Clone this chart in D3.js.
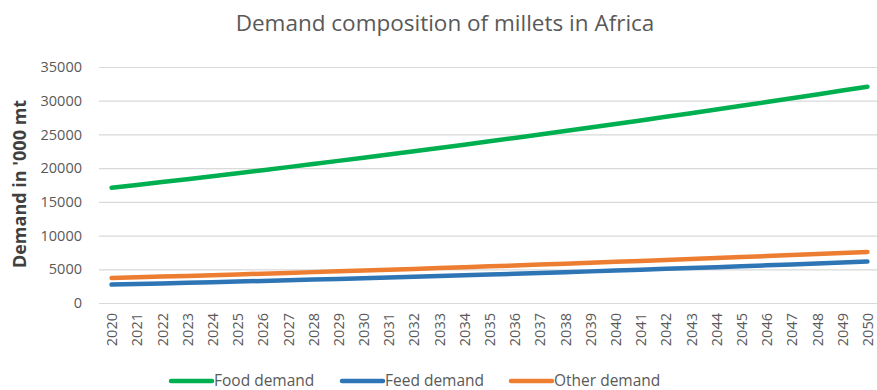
<!DOCTYPE html>
<html>
<head>
<meta charset="utf-8">
<script src="https://cdn.jsdelivr.net/npm/d3@7"></script>
<style>
  body { margin: 0; background: #fff; }
  svg { display: block; font-family: "Open Sans", sans-serif; }
</style>
</head>
<body>
<div id="chart"></div>
<script>
// years on the category axis
var years = [];
for (var yr = 2020; yr <= 2050; yr++) years.push(String(yr));

// values, '000 mt
var foodDemand = [17080, 17503, 17931, 18364, 18803, 19247, 19696, 20151, 20611, 21076,
  21547, 22023, 22504, 22991, 23483, 23980, 24483, 24991, 25504, 26023,
  26547, 27076, 27611, 28151, 28696, 29247, 29803, 30364, 30931, 31503, 32080];
var feedDemand = [2730, 2816, 2904, 2994, 3085, 3179, 3274, 3372, 3471, 3572,
  3676, 3781, 3888, 3996, 4107, 4220, 4335, 4451, 4570, 4690,
  4812, 4936, 5062, 5190, 5320, 5452, 5586, 5721, 5859, 5998, 6140];
var otherDemand = [3710, 3812, 3916, 4022, 4130, 4239, 4351, 4464, 4579, 4696,
  4814, 4935, 5057, 5181, 5307, 5435, 5564, 5696, 5829, 5964,
  6101, 6240, 6381, 6523, 6667, 6813, 6961, 7111, 7262, 7416, 7571];

var yTicks = [0, 5000, 10000, 15000, 20000, 25000, 30000, 35000];
var seriesNames = ["Food demand", "Feed demand", "Other demand"];
var seriesColors = ["#00b050", "#2e75b6", "#ed7d31"];

const svgWidth = 877, svgHeight = 390;
const plot = {left: 99, right: 880, top: 67, bottom: 303};

const svg = d3.select("#chart").append("svg")
  .attr("width", svgWidth)
  .attr("height", svgHeight);

const x = d3.scalePoint()
  .domain(years)
  .range([plot.left, plot.right])
  .padding(0.5);

const y = d3.scaleLinear()
  .domain([0, 35000])
  .range([plot.bottom, plot.top]);

// title
svg.append("text")
  .attr("x", 445)
  .attr("y", 31)
  .attr("text-anchor", "middle")
  .style("font-size", "22.5px")
  .style("fill", "#595959")
  .text("Demand composition of millets in Africa");

// gridlines + y labels
const yAxis = svg.append("g")
  .attr("transform", "translate(" + plot.left + ",0)")
  .call(d3.axisLeft(y).tickValues(yTicks).tickSize(-(svgWidth - plot.left)).tickPadding(17).tickFormat(d3.format("d")));
yAxis.select(".domain").remove();
yAxis.selectAll(".tick line").attr("stroke", "#d9d9d9").attr("stroke-width", 1.2);
yAxis.selectAll(".tick text")
  .style("font-size", "14.5px")
  .style("font-family", "'Open Sans', sans-serif")
  .style("fill", "#595959");

// y axis title
svg.append("text")
  .attr("transform", "translate(26,184) rotate(-90)")
  .attr("text-anchor", "middle")
  .style("font-size", "18px")
  .style("font-weight", "bold")
  .style("fill", "#404040")
  .text("Demand in '000 mt");

// x labels
const xAxis = svg.append("g")
  .attr("transform", "translate(0," + plot.bottom + ")")
  .call(d3.axisBottom(x).tickSize(0));
xAxis.select(".domain").remove();
xAxis.selectAll(".tick text")
  .attr("transform", "rotate(-90)")
  .attr("text-anchor", "end")
  .attr("x", -10)
  .attr("y", 0)
  .attr("dy", "0.35em")
  .style("font-size", "14.5px")
  .style("font-family", "'Open Sans', sans-serif")
  .style("fill", "#595959");

// lines
const line = d3.line()
  .x((d, i) => x(years[i]))
  .y(d => y(d));

[foodDemand, feedDemand, otherDemand].forEach(function(s, i) {
  svg.append("path")
    .datum(s)
    .attr("d", line)
    .attr("fill", "none")
    .attr("stroke", seriesColors[i])
    .attr("stroke-width", 4.5)
    .attr("stroke-linecap", "round")
    .attr("stroke-linejoin", "round");
});

// legend
var legendX = [171, 342, 511];
const legend = svg.append("g");
seriesNames.forEach(function(name, i) {
  legend.append("line")
    .attr("x1", legendX[i]).attr("x2", legendX[i] + 41)
    .attr("y1", 381).attr("y2", 381)
    .attr("stroke", seriesColors[i])
    .attr("stroke-width", 4.5)
    .attr("stroke-linecap", "round");
  legend.append("text")
    .attr("x", legendX[i] + 43)
    .attr("y", 381)
    .attr("dy", "0.35em")
    .style("font-size", "15.5px")
    .style("fill", "#595959")
    .text(name);
});
</script>
</body>
</html>
